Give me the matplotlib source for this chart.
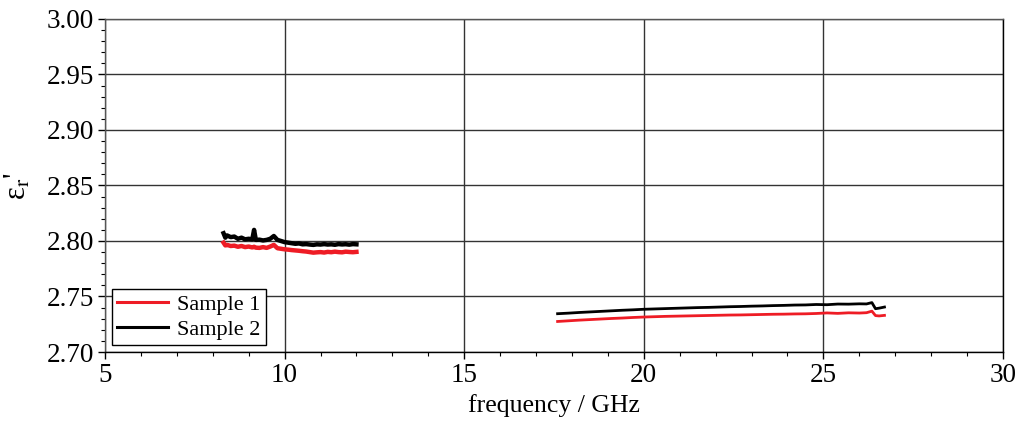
import matplotlib
matplotlib.use("Agg")
import matplotlib.pyplot as plt
import numpy as np
from matplotlib.ticker import MultipleLocator

plt.rcParams['font.family'] = ['Liberation Serif', 'DejaVu Serif']
plt.rcParams['mathtext.fontset'] = 'stix'

# X-band data
f_x = [8.3, 8.35, 8.4, 8.5, 8.6, 8.7, 8.8, 8.9, 9.0, 9.1, 9.15, 9.2, 9.3, 9.4, 9.5,
       9.6, 9.7, 9.8, 9.9, 10.0, 10.1, 10.2, 10.3, 10.4, 10.5, 10.6, 10.7, 10.8,
       10.9, 11.0, 11.1, 11.2, 11.3, 11.4, 11.5, 11.6, 11.7, 11.8, 11.9, 12.0]
s1_x = [2.7985, 2.7960, 2.7965, 2.7955, 2.7958, 2.7948, 2.7955, 2.7945, 2.7950, 2.7942,
        2.7948, 2.7940, 2.7938, 2.7945, 2.7938, 2.7950, 2.7965, 2.7935, 2.7930, 2.7925,
        2.7922, 2.7918, 2.7915, 2.7912, 2.7908, 2.7905, 2.7900, 2.7895, 2.7898, 2.7900,
        2.7896, 2.7902, 2.7899, 2.7904, 2.7900, 2.7898, 2.7904, 2.7901, 2.7899, 2.7902]
s2_x = [2.8070, 2.8030, 2.8050, 2.8035, 2.8040, 2.8020, 2.8030, 2.8015, 2.8020, 2.8015,
        2.8100, 2.8010, 2.8012, 2.8005, 2.8010, 2.8020, 2.8045, 2.8010, 2.8000, 2.7990,
        2.7985, 2.7980, 2.7975, 2.7978, 2.7970, 2.7972, 2.7968, 2.7965, 2.7970, 2.7968,
        2.7972, 2.7968, 2.7970, 2.7966, 2.7972, 2.7969, 2.7971, 2.7967, 2.7972, 2.7970]

# Ka-band data
f_k = [17.6, 17.9, 18.2, 18.5, 18.8, 19.1, 19.4, 19.7, 20.0, 20.3, 20.6, 20.9, 21.2,
       21.5, 21.8, 22.1, 22.4, 22.7, 23.0, 23.3, 23.6, 23.9, 24.2, 24.5, 24.8, 25.1,
       25.4, 25.7, 26.0, 26.2, 26.35, 26.45, 26.55, 26.7]
s1_k = [2.7275, 2.7281, 2.7287, 2.7292, 2.7297, 2.7302, 2.7306, 2.7311, 2.7315, 2.7318,
        2.7321, 2.7323, 2.7325, 2.7327, 2.7329, 2.7331, 2.7333, 2.7334, 2.7336, 2.7338,
        2.7340, 2.7341, 2.7343, 2.7344, 2.7347, 2.7352, 2.7348, 2.7353, 2.7351, 2.7354,
        2.7368, 2.7328, 2.7325, 2.7330]
s2_k = [2.7345, 2.7350, 2.7356, 2.7361, 2.7366, 2.7371, 2.7376, 2.7380, 2.7385, 2.7388,
        2.7391, 2.7394, 2.7397, 2.7400, 2.7402, 2.7405, 2.7408, 2.7410, 2.7413, 2.7415,
        2.7418, 2.7420, 2.7423, 2.7424, 2.7428, 2.7426, 2.7432, 2.7431, 2.7434, 2.7433,
        2.7445, 2.7390, 2.7395, 2.7405]

labels = ["Sample 1", "Sample 2"]
red = '#ee1c25'

fig = plt.figure(figsize=(10.18, 4.21), dpi=100)
ax = fig.add_axes([105/1018, 1-352/421, (1003-105)/1018, (352-19)/421])

ax.plot(f_x, s1_x, color=red, lw=3.2, label=labels[0], zorder=3)
ax.plot(f_k, s1_k, color=red, lw=2.0, zorder=3)
ax.plot(f_x, s2_x, color='black', lw=3.2, label=labels[1], zorder=3)
ax.plot(f_k, s2_k, color='black', lw=2.0, zorder=3)

ax.set_xlim(5, 30)
ax.set_ylim(2.70, 3.00)
ax.xaxis.set_major_locator(MultipleLocator(5))
ax.xaxis.set_minor_locator(MultipleLocator(1))
ax.yaxis.set_major_locator(MultipleLocator(0.05))
ax.yaxis.set_minor_locator(MultipleLocator(0.01))
ax.yaxis.set_major_formatter(matplotlib.ticker.FormatStrFormatter('%.2f'))

ax.grid(True, which='major', color='#333333', lw=1.0)
ax.tick_params(which='major', direction='out', length=5, width=1, labelsize=19.5, pad=3)
ax.tick_params(which='minor', direction='out', length=3, width=0.8)
for s in ax.spines.values():
    s.set_linewidth(1.0)
    s.set_color('black')
ax.spines['left'].set_color('#555555')
ax.spines['top'].set_color('#555555')

ax.set_xlabel("frequency / GHz", fontsize=18.5, labelpad=4)
ax.set_ylabel(r"ε$_{\mathrm{r}}$'", fontsize=22, labelpad=10)

leg = ax.legend(loc='lower left', fontsize=16, frameon=True, fancybox=False,
                edgecolor='black', framealpha=1, borderpad=0.25, handlelength=2.3,
                handletextpad=0.4, labelspacing=0.2, borderaxespad=0.3)
leg.get_frame().set_linewidth(1.0)
for line in leg.get_lines():
    line.set_linewidth(2.2)

fig.savefig("out.png", dpi=100)
